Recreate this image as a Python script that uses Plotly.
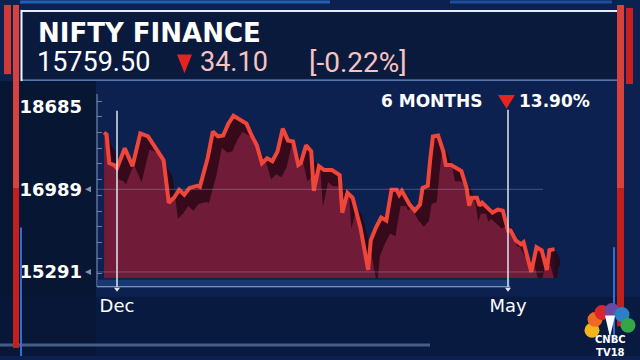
import plotly.graph_objects as go

# ---------------- data ----------------
days = [-5, -4, -3, -1, 0, 3, 6, 9, 12, 15, 18, 20, 22, 24, 26, 28, 31, 32, 35, 37,
        39, 41, 43, 45, 47, 50, 52, 54, 56, 58, 60, 62, 64, 66, 68, 70, 71, 73, 75, 76,
        78, 80, 83, 86, 87, 89, 91, 94, 97, 98, 100, 102, 104, 106, 108, 109, 110, 113, 115, 117,
        118, 120, 121, 122, 124, 126, 127, 129, 131, 133, 135, 136, 137, 139, 140, 141, 143, 144, 145, 147,
        149, 150, 151, 152, 154, 156, 157, 160, 162, 164, 166, 167, 169]
values = [18156, 18115, 17526, 17486, 17425, 17831, 17465, 18136, 18075, 17831,
          17587, 16713, 16815, 16978, 16876, 17018, 17059, 17039, 17628, 18176,
          18075, 18095, 18339, 18502, 18441, 18339, 18095, 17892, 17526, 17628,
          17567, 17770, 18237, 17994, 17973, 17486, 17526, 17892, 17770, 16957,
          17465, 17384, 17384, 17282, 16510, 16917, 16815, 16205, 15332, 15941,
          16205, 16409, 16348, 16978, 16978, 16876, 16957, 16673, 16551, 16673,
          17018, 17059, 17628, 18075, 18095, 17770, 17486, 17486, 17425, 17364,
          17018, 16652, 16815, 16815, 16652, 16713, 16612, 16571, 16510, 16571,
          16551, 16348, 16144, 16144, 15941, 15860, 15901, 15291, 15799, 15738,
          15332, 15738, 15759.5]
y_ticks = [15291, 16989, 18685]
x_tick_days = [0, 151]
x_tick_text = ["Dec", "May"]
title_text = "NIFTY FINANCE"
last_value = "15759.50"
change_abs = "34.10"
change_pct = "[-0.22%]"
period_label = "6 MONTHS"
period_change = "13.90%"

# ---------------- geometry helpers ----------------
W, H = 640, 360
def px(x): return x / W
def py(y): return 1 - y / H

X0, X1 = 97, 560          # plot area pixel extents
Y0, Y1 = 95, 281
ppd = (508 - 117) / 151   # pixels per day
xr = [(X0 - 117) / ppd, (X1 - 117) / ppd]
upp = 20.32               # index units per pixel
yr = [15291 + (275 - Y1) * upp, 15291 + (275 - Y0) * upp]
def dx(xpix): return (xpix - 117) / ppd

SX, SY = 3.5, -330        # extrusion offset of the 3D ribbon

fig = go.Figure()
fig.add_trace(go.Scatter(x=days, y=values, mode="none", fill="tozeroy",
                         fillcolor="#701c38", hoverinfo="skip"))
fig.add_trace(go.Scatter(x=[d + SX for d in days], y=[v + SY for v in values],
                         mode="lines", line=dict(width=0, color="rgba(0,0,0,0)"),
                         hoverinfo="skip"))
fig.add_trace(go.Scatter(x=days, y=values, mode="lines", fill="tonexty",
                         fillcolor="rgba(40,6,20,0.8)",
                         line=dict(color="#f0463a", width=4), hoverinfo="skip"))

shapes = []
def rect(x0, y0, x1, y1, color, layer="below", opacity=1):
    shapes.append(dict(type="rect", xref="paper", yref="paper",
                       x0=px(x0), x1=px(x1), y0=py(y1), y1=py(y0),
                       fillcolor=color, line=dict(width=0), layer=layer, opacity=opacity))
def pline(x0, y0, x1, y1, color, width=1, layer="above", opacity=1):
    shapes.append(dict(type="line", xref="paper", yref="paper",
                       x0=px(x0), x1=px(x1), y0=py(y0), y1=py(y1),
                       line=dict(color=color, width=width), layer=layer, opacity=opacity))
def tri(pts, color, layer="above"):
    path = "M " + " L ".join(f"{px(a):.5f},{py(b):.5f}" for a, b in pts) + " Z"
    shapes.append(dict(type="path", xref="paper", yref="paper", path=path,
                       fillcolor=color, line=dict(width=0), layer=layer))

# background panels
rect(0, 0, 640, 360, "#0c2150")
rect(0, 82, 96, 360, "#071633")
rect(0, 300, 640, 360, "#08183a", opacity=0.7)
rect(22, 11, 617, 81, "#0a1a3d")
# header lines
pline(22, 11, 617, 11, "#e6edf8", 2)
pline(22, 81, 617, 81, "#6f8fc8", 1.2)
pline(21.5, 10, 21.5, 82, "#f2f4f8", 2)
# glows
pline(20, 2, 330, 2, "#2a6fd0", 3, opacity=0.8)
pline(450, 2, 612, 2, "#2a6fd0", 3, opacity=0.6)
pline(0, 349, 430, 349, "#8fb0e0", 3, opacity=0.45)
# red side bars
rect(4, 5, 11, 75, "#d23a36", layer="above")
rect(13, 5, 19, 190, "#d8423e", layer="above")
rect(13, 190, 19, 352, "#c41f1f", layer="above")
pline(21, 230, 21, 360, "#2f6fd0", 2)
rect(617, 5, 624, 190, "#d8423e", layer="above")
rect(617, 190, 624, 330, "#c41f1f", layer="above")
rect(626, 8, 633, 85, "#c8201e", layer="above")
pline(614, 250, 614, 345, "#2f6fd0", 2)

# axes decorations
pline(97, 95, 97, 290, "#8396bb", 1)
rect(97, 283, 510, 290, "#1d3f7a", layer="above", opacity=0.8)
pline(97, 290, 510, 290, "#9fb2d6", 1)
for yv in [16989, 15291]:
    shapes.append(dict(type="line", xref="x", yref="y", x0=xr[0], x1=dx(543), y0=yv, y1=yv,
                       line=dict(color="#9fb0d0", width=1), opacity=0.35, layer="above"))
for yv in [16989, 15291]:
    ypix = 275 - (yv - 15291) / upp
    tri([(85, ypix), (91, ypix - 3), (91, ypix + 3)], "#7f8fb0")
# vertical markers at Dec and May
for d in x_tick_days:
    shapes.append(dict(type="line", xref="x", yref="paper", x0=d, x1=d,
                       y0=py(290), y1=py(112 if d == 0 else 111),
                       line=dict(color="#dfe6f2", width=1.5), layer="above"))
    xp = 117 + d * ppd
    tri([(xp - 3, 291), (xp + 3, 291), (xp, 295)], "#dfe6f2")
# red triangles
tri([(177, 55), (192, 55), (184.5, 74)], "#e3241f")
tri([(498, 96), (515, 96), (506.5, 110)], "#e3241f")

# CNBC-like logo
feathers = [((592, 334), "#f4b41c"), ((595, 323), "#ee6a22"), ((602, 316), "#d9262c"),
            ((612, 314), "#6a4aa0"), ((622, 318), "#2a7fc6"), ((628, 329), "#35a548")]
for (cx, cy), col in feathers:
    r = 7.5
    shapes.append(dict(type="circle", xref="paper", yref="paper",
                       x0=px(cx - r), x1=px(cx + r), y0=py(cy + r), y1=py(cy - r),
                       fillcolor=col, line=dict(width=0), layer="above"))
tri([(610, 341), (605, 319), (615, 319)], "#ffffff")

ann = []
def text(x, y, s, size, color="#ffffff", family="DejaVu Sans", bold=True, anchor="left"):
    ann.append(dict(x=px(x), y=py(y), xref="paper", yref="paper", text=s, showarrow=False,
                    xanchor=anchor, yanchor="middle",
                    font=dict(size=size, color=color, family=family,
                              weight="bold" if bold else "normal")))

text(36, 33, title_text, 26)
text(35, 63, last_value, 27, family="Roboto", bold=False)
text(198, 63, change_abs, 27, color="#f6c3c0", family="Roboto", bold=False)
text(307, 63, change_pct, 28, color="#f6c3c0", family="Roboto", bold=False)
text(379, 102, period_label, 17)
text(517, 102, period_change, 17)
text(610, 350, "CNBC<br>TV18", 10, family="DejaVu Sans", anchor="center")

fig.update_layout(
    width=W, height=H, margin=dict(l=0, r=0, t=0, b=0),
    paper_bgcolor="#0c2150", plot_bgcolor="rgba(0,0,0,0)",
    showlegend=False, shapes=shapes, annotations=ann,
    xaxis=dict(domain=[px(X0), px(X1)], range=xr, showgrid=False, zeroline=False,
               showline=False, anchor="free", position=py(290),
               tickmode="array", tickvals=x_tick_days, ticktext=x_tick_text,
               ticks="", ticklabelstandoff=6,
               tickfont=dict(size=18, color="#ffffff", family="DejaVu Sans")),
    yaxis=dict(domain=[py(Y1), py(Y0)], range=yr, showgrid=False, zeroline=False,
               showline=False, tickmode="array", tickvals=y_ticks,
               ticktext=[str(v) for v in y_ticks], ticks="", ticklabelstandoff=14,
               tickfont=dict(size=18, color="#ffffff", family="DejaVu Sans", weight="bold"),
               minor=dict(ticks="inside", ticklen=5, tickcolor="#6d80a8",
                          tick0=15250, dtick=323, showgrid=False)),
)
fig.write_html("out.html")
